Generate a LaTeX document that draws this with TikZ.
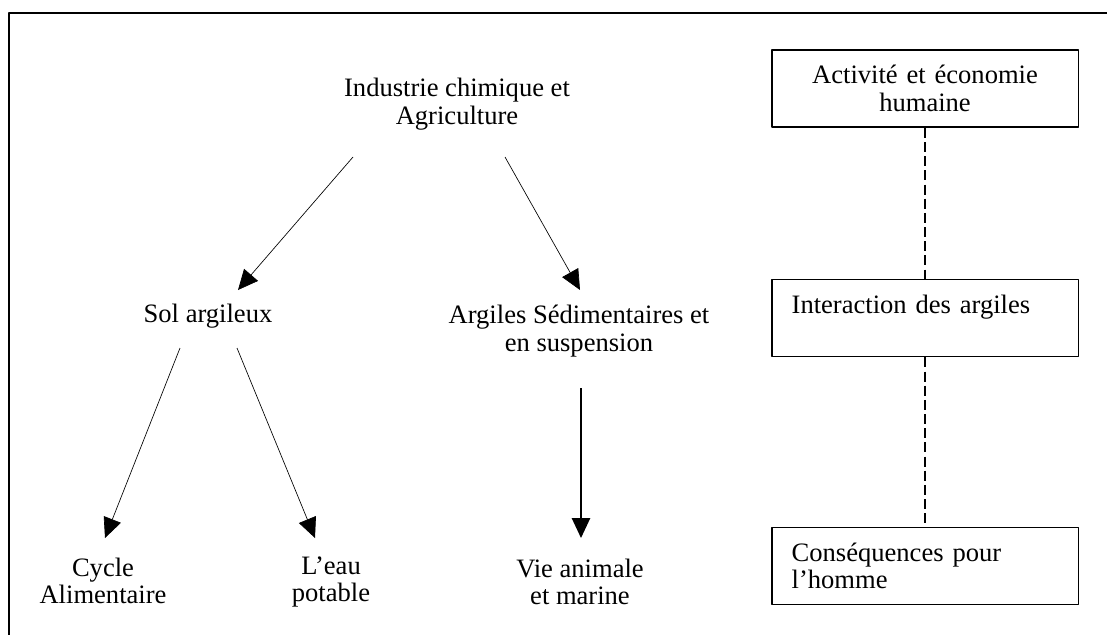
\documentclass[tikz,border=0pt]{standalone}
\usepackage{fontspec}
\setmainfont{Liberation Serif}
\usetikzlibrary{arrows.meta}
\tikzset{>={Triangle[length=12bp,width=11bp]}, semithick,
  txt/.style={align=center, inner sep=0pt, font=\fontsize{16}{16.5}\selectfont},
  casebox/.style={draw, line width=1pt, minimum width=184bp, minimum height=46.2bp,
    text width=160bp, inner xsep=12bp, inner ysep=0pt, font=\fontsize{16}{16.5}\selectfont},
  link/.style={line width=1.1pt, dash pattern=on 6bp off 2.5bp}}

\begin{document}
\begin{tikzpicture}[x=0.6bp,y=-0.6bp,line join=bevel]
%%
\useasboundingbox (0,0) rectangle (1107,635);
\draw [line width=1.3pt] (9,640) -- (9,13) -- (1115,13);
%
  \node (indus) at (457,104) [txt] {Industrie chimique et\\Agriculture};
  \node (sol) at (208,316) [txt] {Sol argileux};
  \node (argiles) at (579,331) [txt] {Argiles Sédimentaires et\\en suspension};
  \node (cycle) at (103,581) [txt] {Cycle\\Alimentaire};
  \node (eau) at (331,582) [txt] {L’eau\\potable};
  \node (vie) at (580,582) [txt] {Vie animale\\et marine};
%
  \node (act) at (925,88.5) [casebox, align=center] {Activité et économie\\humaine};
  \node (inter) at (925,318) [casebox, align=left] {Interaction des argiles\\\mbox{}};
  \node (cons) at (925,566) [casebox, align=left] {Conséquences pour\\l’homme};
%
  \draw [->] ([shift={(-104,53)}]indus.center) -- ([shift={(30,-26)}]sol.center);
  \draw [->] ([shift={(48,53)}]indus.center) -- ([shift={(1,-41)}]argiles.center);
  \draw [->] ([shift={(-28,32)}]sol.center) -- ([shift={(2,-43)}]cycle.center);
  \draw [->] ([shift={(29,32)}]sol.center) -- ([shift={(-16,-44)}]eau.center);
  \draw [->, line width=1pt] ([shift={(2,57)}]argiles.center) -- ([shift={(1,-44)}]vie.center);
%
  \draw [link] (act.south) -- (inter.north);
  \draw [link] (inter.south) -- (cons.north);
%
\end{tikzpicture}
\end{document}
